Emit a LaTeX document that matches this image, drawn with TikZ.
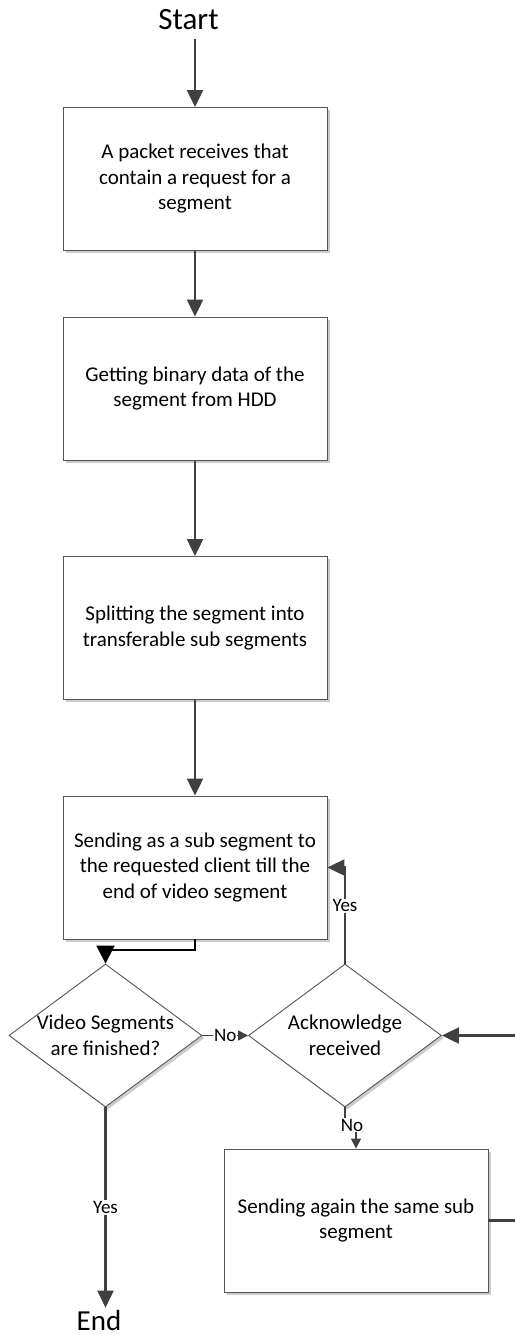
\documentclass[tikz,border=0pt]{standalone}
\usepackage{fontspec}
\setmainfont{Carlito}
\usetikzlibrary{arrows.meta,shapes.geometric,shadows}
\definecolor{linec}{HTML}{404040}
\definecolor{boxc}{HTML}{555555}
\begin{document}
\begin{tikzpicture}[x=1pt,y=-1pt,
  shadowed/.style={drop shadow={shadow xshift=2.5pt, shadow yshift=-2.5pt, fill=black!20, opacity=1}},
  procbox/.style={draw=boxc, line width=0.9pt, fill=white, minimum width=264pt, minimum height=143pt,
    align=center, font=\fontsize{21}{25.5}\selectfont, inner sep=0pt, shadowed},
  decision/.style={diamond, draw=boxc, line width=0.9pt, fill=white, minimum width=193pt,
    minimum height=143pt, inner sep=0pt, shadowed},
  dtext/.style={align=center, font=\fontsize{21}{25.5}\selectfont, inner sep=0pt},
  term/.style={inner sep=2pt, anchor=base},
  conn/.style={draw=linec, line width=2.2pt, -{Triangle[length=17pt,width=16pt]}},
  connb/.style={draw=black, line width=2pt, -{Triangle[length=18pt,width=18pt]}},
  conns/.style={draw=linec, line width=1.5pt, -{Triangle[length=10pt,width=10pt]}},
  lab/.style={font=\fontsize{19}{22}\selectfont, fill=white, inner sep=1pt}]
\useasboundingbox (0,0) rectangle (514,1335);

\node[term, font=\fontsize{31}{36}\selectfont] (start) at (188.5,30) {Start};
\node[procbox] (box1) at (195,179) {A packet receives that\\contain a request for a\\segment};
\node[procbox] (box2) at (195,388.5) {Getting binary data of the\\segment from HDD};
\node[procbox] (box3) at (195,628) {Splitting the segment into\\transferable sub segments};
\node[procbox] (box4) at (195,867.5) {Sending as a sub segment to\\the requested client till the\\end of video segment};
\node[decision] (d1) at (105.5,1035.5) {};
\node[dtext] (d1t) at (d1.center) {Video Segments\\are finished?};
\node[decision] (d2) at (345,1035.5) {};
\node[dtext] (d2t) at (d2.center) {Acknowledge\\received};
\node[procbox] (box5) at (356,1220.5) {Sending again the same sub\\segment};
\node[term, font=\fontsize{29}{34}\selectfont] (end) at (99,1330) {End};

\draw[conn, shorten <=7pt] (start.south -| box1.north) -- (box1.north);
\draw[conn] (box1.south) -- (box2.north);
\draw[conn] (box2.south) -- (box3.north);
\draw[conn] (box3.south) -- (box4.north);
\draw[connb] (box4.south) -- ++(0,11) -| (d1.north);
\draw[conns] (d1.east) -- node[lab] {No} (d2.west);
\draw[conn] (d2.north) |- node[lab, pos=0.3] {Yes} (box4.east);
\draw[conns] (d2.south) -- ++(0,18) -| (box5.north);
\node[lab] (no2) at (352,1125) {No};
\draw[conn] (box5.east) -- ++(40,0) |- (d2.east);
\draw[conn] (d1.south) -- node[lab] {Yes} (d1.south |- end.north);
\end{tikzpicture}
\end{document}
